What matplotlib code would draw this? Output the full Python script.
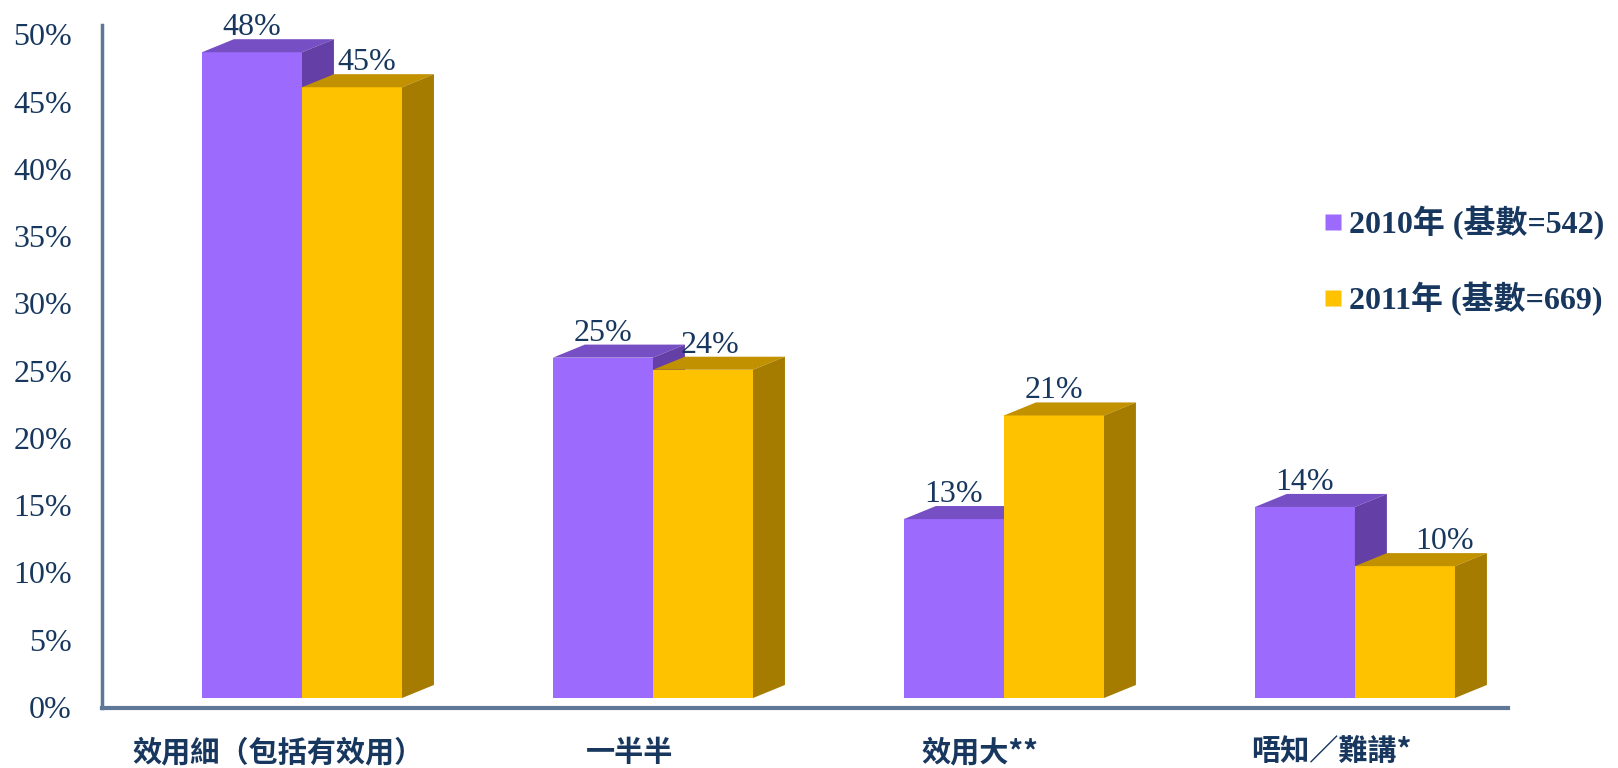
import matplotlib
matplotlib.use('Agg')
import matplotlib.pyplot as plt
import matplotlib.transforms as mtransforms
from matplotlib.patches import Polygon
from matplotlib.lines import Line2D
from matplotlib.font_manager import FontProperties

# data
categories = ['效用細（包括有效用）', '一半半', '效用大**', '唔知／難講*']
series_names = ['2010年 (基數=542)', '2011年 (基數=669)']
values_2010 = [48.0, 25.3, 13.3, 14.2]
values_2011 = [45.4, 24.4, 21.0, 9.8]
yticks = [0, 5, 10, 15, 20, 25, 30, 35, 40, 45, 50]

navy = '#17375E'
purple = ('#9C6AFC', '#774FC4', '#633FA6')   # front, top, side
gold = ('#FFC200', '#C29100', '#A57C00')

fig = plt.figure(figsize=(16.18, 7.68), dpi=100)
ax = fig.add_axes([0.063, 0.078, 0.869, 0.889])

bw = 0.285      # bar width
dx = 0.091      # depth to the right
dy = 0.97       # depth upwards (in %)


def bar3d(x0, h, cols, z):
    ax.bar(x0, h, width=bw, align='edge', color=cols[0], zorder=z)
    top = Polygon([(x0, h), (x0 + bw, h), (x0 + bw + dx, h + dy), (x0 + dx, h + dy)],
                  closed=True, fc=cols[1], ec='none', zorder=z + 0.1)
    side = Polygon([(x0 + bw, 0), (x0 + bw + dx, dy), (x0 + bw + dx, h + dy), (x0 + bw, h)],
                   closed=True, fc=cols[2], ec='none', zorder=z + 0.1)
    ax.add_patch(top)
    ax.add_patch(side)


nudge_2011 = [15, 7, 0, 40]
for i in range(len(categories)):
    v1, v2 = values_2010[i], values_2011[i]
    bar3d(i - bw, v1, purple, 2 + i)
    bar3d(i, v2, gold, 2.5 + i)
    ax.annotate(f'{round(v1)}%', xy=(i - bw / 2, v1 + dy), xytext=(0, 4),
                textcoords='offset pixels', ha='center', va='baseline',
                fontsize=23, family='Liberation Serif', color=navy, zorder=10)
    ax.annotate(f'{round(v2)}%', xy=(i + bw / 2, v2 + dy), xytext=(nudge_2011[i], 4),
                textcoords='offset pixels', ha='center', va='baseline',
                fontsize=23, family='Liberation Serif', color=navy, zorder=10)

ax.set_xlim(-0.57, 3.436)
ax.set_ylim(-0.75, 50)

ax.set_yticks(yticks)
ax.set_yticklabels([f'{t}%' for t in yticks], fontsize=23,
                   family='Liberation Serif', color=navy)
ax.set_xticks([i - 0.068 for i in range(len(categories))])
ax.set_xticklabels(categories, fontsize=21, fontweight='bold',
                   family=['Noto Sans CJK TC', 'DejaVu Sans'], color=navy)
ax.tick_params(axis='y', length=0, pad=21.6)
ax.tick_params(axis='x', length=0, pad=21)

# y labels sit a little lower than the front of the bars (3d floor)
shift = mtransforms.ScaledTranslation(0, -9 / 100, fig.dpi_scale_trans)
for lab in ax.get_yticklabels():
    lab.set_transform(lab.get_transform() + shift)

for s in ['top', 'right']:
    ax.spines[s].set_visible(False)
ax.spines['left'].set_color('#5F7898')
ax.spines['left'].set_linewidth(2.5)
ax.spines['bottom'].set_color('#5F7898')
ax.spines['bottom'].set_linewidth(3)

handles = [Line2D([], [], marker='s', ls='none', markersize=11.5, mfc=purple[0], mec='none'),
           Line2D([], [], marker='s', ls='none', markersize=11.5, mfc=gold[0], mec='none')]
leg = ax.legend(handles, series_names, loc='center left', bbox_to_anchor=(0.819, 0.660),
                bbox_transform=fig.transFigure, frameon=False, borderpad=0, borderaxespad=0,
                handlelength=0.5, handletextpad=0.25, labelspacing=1.3,
                prop=FontProperties(family=['Liberation Serif', 'Noto Sans CJK TC'],
                                    weight='bold', size=23))
for t in leg.get_texts():
    t.set_color(navy)

fig.savefig('out.png', dpi=100)
